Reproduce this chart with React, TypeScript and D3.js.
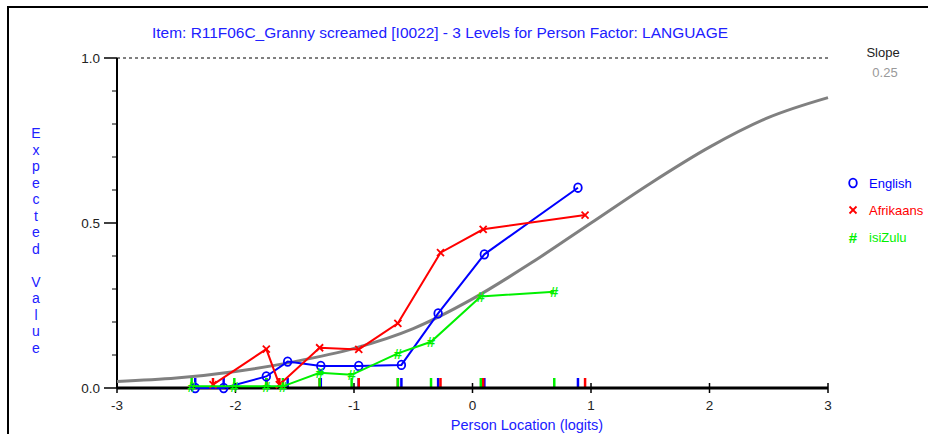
import React from 'react';
import * as d3 from 'd3';

// Chart text
const title = 'Item: R11F06C_Granny screamed [I0022] - 3 Levels for Person Factor: LANGUAGE';
const xLabel = 'Person Location (logits)';
const yLabel = 'Expected Value';
const slopeValue = '0.25';

// Axis ticks
const xTicks = [-3, -2, -1, 0, 1, 2, 3];
const yMajorTicks = [0, 0.5, 1];
const yMinorTicks = [0.1, 0.2, 0.3, 0.4, 0.6, 0.7, 0.8, 0.9];

// Model curve (expected value)
const curveX = [-3, -2.5, -2, -1.5, -1, -0.5, 0, 0.5, 1, 1.5, 2, 2.5, 3];
const curveY = [0.02, 0.03, 0.05, 0.08, 0.12, 0.18, 0.27, 0.38, 0.5, 0.62, 0.73, 0.82, 0.88];

// Observed class-interval means per group
const englishX = [-2.34, -2.1, -1.74, -1.56, -1.28, -0.96, -0.6, -0.29, 0.1, 0.89];
const englishY = [0.0, 0.0, 0.035, 0.08, 0.067, 0.067, 0.07, 0.226, 0.405, 0.607];

const afrikaansX = [-2.19, -1.74, -1.63, -1.29, -0.96, -0.63, -0.27, 0.09, 0.95];
const afrikaansY = [0.01, 0.118, 0.01, 0.122, 0.117, 0.196, 0.41, 0.481, 0.524];

const isizuluX = [-2.37, -2.01, -1.74, -1.6, -1.29, -1.02, -0.63, -0.35, 0.07, 0.69];
const isizuluY = [0.005, 0.005, 0.005, 0.005, 0.046, 0.04, 0.105, 0.14, 0.277, 0.292];

const groups = [
    { name: 'English', xs: englishX, ys: englishY, color: '#0000ff', marker: 'o' },
    { name: 'Afrikaans', xs: afrikaansX, ys: afrikaansY, color: '#ff0000', marker: 'x' },
    { name: 'isiZulu', xs: isizuluX, ys: isizuluY, color: '#00f000', marker: '#' }
];

const FONT = 'Liberation Sans, Arial, sans-serif';

function Marker({ type, x, y, color }) {
    if (type === 'o') {
        return <ellipse cx={x} cy={y} rx={3.8} ry={4.3} fill="none" stroke={color} strokeWidth={1.8} />;
    }
    if (type === 'x') {
        const s = 3.5;
        return (
            <g stroke={color} strokeWidth={1.8}>
                <line x1={x - s} y1={y - s} x2={x + s} y2={y + s} />
                <line x1={x - s} y1={y + s} x2={x + s} y2={y - s} />
            </g>
        );
    }
    return (
        <text x={x} y={y + 5.5} textAnchor="middle" fill={color} fontSize={15} fontWeight="bold" fontFamily={FONT}>
            #
        </text>
    );
}

export default function App() {
    const width = 928;
    const height = 434;

    const x = d3.scaleLinear().domain([-3, 3]).range([117, 828]);
    const y = d3.scaleLinear().domain([0, 1]).range([388, 58]);

    const curvePath = d3
        .line<number>()
        .x((d, i) => x(curveX[i]))
        .y(d => y(d))
        .curve(d3.curveMonotoneX)(curveY);

    const seriesLine = (xs: number[], ys: number[]) =>
        d3
            .line<number>()
            .x((d, i) => x(xs[i]))
            .y(d => y(d))(ys);

    return (
        <svg
            width={width}
            height={height}
            style={{ position: 'absolute', left: 0, top: 0, background: '#fff' }}
            fontFamily={FONT}
        >
            {/* outer frame */}
            <rect x={8} y={7} width={940} height={450} fill="none" stroke="#000" strokeWidth={2} />

            {/* title */}
            <text x={440} y={38} textAnchor="middle" fill="#2020ff" fontSize={14} textLength={576} lengthAdjust="spacingAndGlyphs">
                {title}
            </text>

            {/* slope */}
            <text x={883} y={57} textAnchor="middle" fill="#222" fontSize={13}>Slope</text>
            <text x={885} y={77} textAnchor="middle" fill="#999" fontSize={13}>{slopeValue}</text>

            {/* y label, stacked letters */}
            {yLabel.split('').map((c, i) => (
                <text key={i} x={36} y={138 + i * 16.5} textAnchor="middle" fill="#2020ff" fontSize={14}>
                    {c}
                </text>
            ))}

            {/* upper reference line */}
            <line x1={x(-3)} x2={x(3)} y1={y(1)} y2={y(1)} stroke="#000" strokeWidth={1} strokeDasharray="3,3" />

            {/* y axis */}
            <line x1={117} x2={117} y1={y(1)} y2={y(0)} stroke="#000" strokeWidth={2} />
            {yMajorTicks.map(t => (
                <g key={t}>
                    <line x1={104} x2={117} y1={y(t)} y2={y(t)} stroke="#000" strokeWidth={1.5} />
                    <text x={100} y={y(t) + 5} textAnchor="end" fill="#222" fontSize={13.5}>
                        {t.toFixed(1)}
                    </text>
                </g>
            ))}
            {yMinorTicks.map(t => (
                <line key={t} x1={112} x2={117} y1={y(t)} y2={y(t)} stroke="#000" strokeWidth={1} />
            ))}

            {/* model curve */}
            <path d={curvePath} fill="none" stroke="#808080" strokeWidth={3} />

            {/* rug marks */}
            {groups.map(g =>
                g.xs.map((v, i) => (
                    <line key={g.name + i} x1={x(v)} x2={x(v)} y1={378} y2={388} stroke={g.color} strokeWidth={2.5} />
                ))
            )}

            {/* x axis */}
            <line x1={x(-3)} x2={x(3)} y1={388} y2={388} stroke="#000" strokeWidth={3} />
            {xTicks.map(t => (
                <g key={t}>
                    <line x1={x(t)} x2={x(t)} y1={383} y2={393} stroke="#000" strokeWidth={1.5} />
                    <text x={x(t)} y={410} textAnchor="middle" fill="#222" fontSize={13.5}>
                        {t}
                    </text>
                </g>
            ))}
            <text x={527} y={430} textAnchor="middle" fill="#2020ff" fontSize={14.5}>
                {xLabel}
            </text>

            {/* observed series */}
            {groups.map(g => (
                <g key={g.name}>
                    <path d={seriesLine(g.xs, g.ys)} fill="none" stroke={g.color} strokeWidth={2} />
                    {g.xs.map((v, i) => (
                        <Marker key={i} type={g.marker} x={x(v)} y={y(g.ys[i])} color={g.color} />
                    ))}
                </g>
            ))}

            {/* legend */}
            {groups.map((g, i) => (
                <g key={g.name} transform={`translate(0, ${183 + i * 27})`}>
                    <Marker type={g.marker} x={853} y={0} color={g.color} />
                    <text x={869} y={5} fill={g.color} fontSize={13}>
                        {g.name}
                    </text>
                </g>
            ))}
        </svg>
    );
}
